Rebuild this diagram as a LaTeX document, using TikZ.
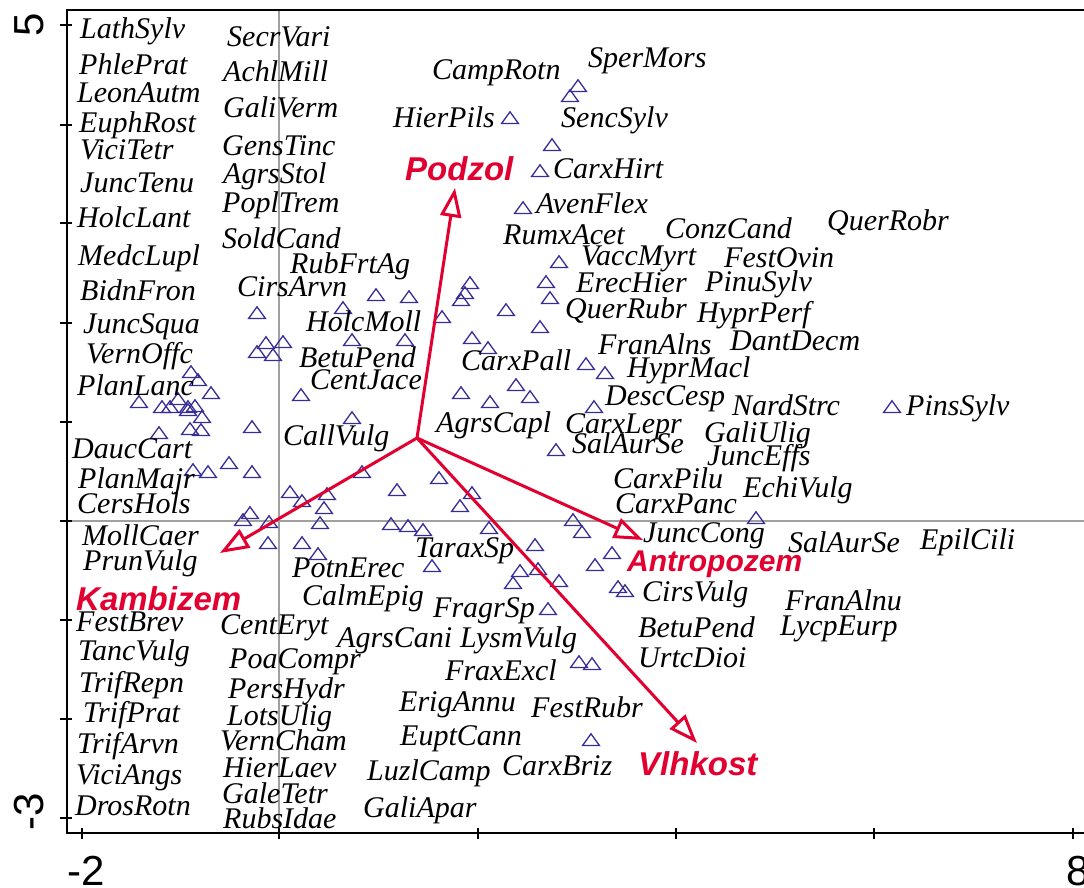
\documentclass[tikz,border=0pt]{standalone}
\usepackage{fontspec}
\setmainfont{Liberation Serif}
\newfontfamily\arialf{Liberation Sans}
\usetikzlibrary{arrows.meta,shapes.geometric}
\definecolor{envred}{RGB}{226,0,48}
\definecolor{ptblue}{RGB}{55,45,150}
\definecolor{axgrey}{RGB}{160,160,160}
\begin{document}
\begin{tikzpicture}[x=1pt,y=-1pt,
  sp/.style={font=\fontsize{30}{30}\selectfont\itshape, anchor=base west, inner sep=0pt, text=black},
  env/.style={font=\arialf\fontsize{33}{33}\selectfont\bfseries\itshape, text=envred, anchor=base west, inner sep=0pt},
  ticklab/.style={font=\arialf\fontsize{42}{42}\selectfont, anchor=base, inner sep=0pt},
  tri/.style={regular polygon, regular polygon sides=3, draw=ptblue, line width=1.3pt, minimum size=19.5pt, inner sep=0pt, yscale=0.8, yshift=-2pt},
  vec/.style={draw=envred, line width=3pt, -{Triangle[open, length=29pt, width=21pt]}},
  frame/.style={line width=2.5pt},
  tick/.style={line width=2pt},
  grid0/.style={draw=axgrey, line width=1.3pt}]
\useasboundingbox (0,0) rectangle (1084,888);
% zero lines
\draw[grid0] (279,10) -- (279,833);
\draw[grid0] (67,521) -- (1100,521);
% frame
\draw[frame] (1100,10) -- (67,10) -- (67,833) -- (1100,833);
\foreach \v in {25,125,223,323,422,521,620,719,818} \draw[tick] (60,\v) -- (72,\v);
\foreach \u in {82,279,478,676,874,1073} \draw[tick] (\u,828) -- (\u,839);
\node[ticklab, rotate=90] (yfive) at (43,25) {5};
\node[ticklab, rotate=90] (ymthree) at (43,812) {-3};
\node[ticklab] (xmtwo) at (86,885) {-2};
\node[ticklab] (xeight) at (1078,885) {8};
% species points
\foreach \p [count=\i] in {(578,86),(570,96),(510,118),(552,145),(540,171),(523,208),(559,262),(546,282),(550,298),(506,310),(540,327),(488,348),(586,364),(605,373),(516,385),(530,397),(490,402),(594,407),(556,450),
(442,317),(405,340),(472,338),(461,393),(439,478),(397,490),(472,493),(460,506),(573,520),(582,532),(391,524),(408,526),(423,530),(489,528),(535,545),(612,553),(595,565),(432,566),(520,571),(538,569),(513,583),(559,581),(618,587),(625,591),
(362,472),(229,463),(193,470),(208,472),(252,472),(290,492),(327,494),(302,501),(324,508),(250,513),(243,520),(269,522),(320,523),(268,543),(302,543),(318,554),
(257,313),(266,343),(283,342),(257,352),(273,355),(191,372),(198,380),(211,393),(139,402),(162,407),(170,407),(178,399),(188,407),(195,406),(188,410),(202,417),(252,427),(159,433),(190,429),(201,430),
(343,308),(376,295),(409,297),(470,283),(465,293),(461,300),(352,340),(301,395),(352,418),
(892,407),(756,518),(548,609),(579,662),(592,664),(591,740)}
  \node[tri] (t\i) at \p {};
% environmental vectors
\coordinate (o) at (417,438);
\coordinate (podzTip) at (455,188);
\coordinate (kambTip) at (220,553);
\coordinate (antrTip) at (643,540);
\coordinate (vlhkTip) at (697,743);
\draw[vec] (o) -- (podzTip);
\draw[vec] (o) -- (kambTip);
\draw[vec] (o) -- (antrTip);
\draw[vec] (o) -- (vlhkTip);
\node[env] (Podzol) at (405,180) {Podzol};
\node[env] (Kambizem) at (76,610) {Kambizem};
\node[env, font=\arialf\fontsize{30}{30}\selectfont\bfseries\itshape] (Antropozem) at (627,571) {Antropozem};
\node[env] (Vlhkost) at (638,775) {Vlhkost};
% species labels
\foreach \n/\x/\y/\t in {
LathSylv/80/39/LathSylv, PhlePrat/79/75/PhlePrat, LeonAutm/77/103/LeonAutm, EuphRost/79/132/EuphRost,
ViciTetr/80/160/ViciTetr, JuncTenu/80/192/JuncTenu, HolcLant/77/227/HolcLant, MedcLupl/78/265/MedcLupl,
BidnFron/80/300/BidnFron, JuncSqua/83/333/JuncSqua, VernOffc/86/363/VernOffc, PlanLanc/77/395/PlanLanc,
DaucCart/72/458/DaucCart, PlanMajr/78/488/PlanMajr, CersHols/77/513/CersHols, MollCaer/82/545/MollCaer,
PrunVulg/83/570/PrunVulg, FestBrev/76/631/FestBrev, TancVulg/78/660/TancVulg, TrifRepn/79/692/TrifRepn,
TrifPrat/83/722/TrifPrat, TrifArvn/77/753/TrifArvn, ViciAngs/76/784/ViciAngs, DrosRotn/75/815/DrosRotn,
SecrVari/227/47/SecrVari, AchlMill/223/82/AchlMill, GaliVerm/223/118/GaliVerm, GensTinc/222/155/GensTinc,
AgrsStol/223/183/AgrsStol, PoplTrem/222/212/PoplTrem, SoldCand/222/248/SoldCand, RubFrtAg/290/273/RubFrtAg,
CirsArvn/237/296/CirsArvn, HolcMoll/306/331/HolcMoll, BetuPend/299/367/BetuPend, CentJace/310/389/CentJace,
CallVulg/283/445/CallVulg, PotnErec/292/577/PotnErec, CalmEpig/302/605/CalmEpig, CentEryt/220/634/CentEryt,
AgrsCani/337/647/AgrsCani, PoaCompr/229/668/PoaCompr, PersHydr/228/698/PersHydr, LotsUlig/227/725/LotsUlig,
VernCham/220/750/VernCham, HierLaev/223/777/HierLaev, GaleTetr/222/803/GaleTetr, RubsIdae/223/828/RubsIdae,
CampRotn/432/80/CampRotn, SperMors/588/68/SperMors, HierPils/393/128/HierPils, SencSylv/561/128/SencSylv,
CarxHirt/553/178/CarxHirt, AvenFlex/536/213/AvenFlex, RumxAcet/503/244/RumxAcet, VaccMyrt/581/265/VaccMyrt,
ErecHier/576/292/ErecHier, QuerRubr/565/318/QuerRubr, CarxPall/461/370/CarxPall, FranAlns/598/354/FranAlns,
HyprMacl/627/377/HyprMacl, DescCesp/605/405/DescCesp, AgrsCapl/436/432/AgrsCapl, CarxLepr/565/433/CarxLepr,
SalAurSe/572/453/SalAurSe, CarxPilu/613/488/CarxPilu, CarxPanc/615/513/CarxPanc, JuncCong/643/542/JuncCong,
TaraxSp/415/557/TaraxSp, CirsVulg/642/601/CirsVulg, FragrSp/433/617/FragrSp, LysmVulg/460/647/LysmVulg,
BetuPendB/638/637/BetuPend, UrtcDioi/638/667/UrtcDioi, FraxExcl/445/680/FraxExcl, ErigAnnu/399/711/ErigAnnu,
FestRubr/531/717/FestRubr, EuptCann/400/745/EuptCann, CarxBriz/502/775/CarxBriz, LuzlCamp/367/780/LuzlCamp,
GaliApar/363/817/GaliApar,
ConzCand/665/238/ConzCand, QuerRobr/827/230/QuerRobr, FestOvin/724/267/FestOvin, PinuSylv/705/291/PinuSylv,
HyprPerf/697/322/HyprPerf, DantDecm/730/350/DantDecm, NardStrc/732/415/NardStrc, PinsSylv/906/415/PinsSylv,
GaliUlig/704/442/GaliUlig, JuncEffs/707/465/JuncEffs, EchiVulg/743/497/EchiVulg, SalAurSeB/788/552/SalAurSe,
EpilCili/920/549/EpilCili, FranAlnu/785/610/FranAlnu, LycpEurp/780/635/LycpEurp}
  \node[sp] (\n) at (\x,\y) {\t};
\end{tikzpicture}
\end{document}
